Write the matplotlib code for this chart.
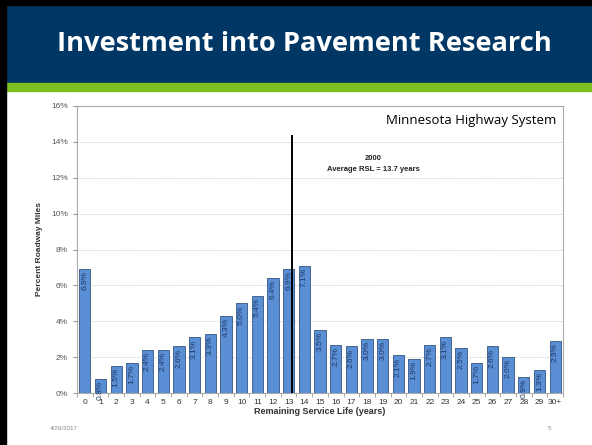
import matplotlib.pyplot as plt
import matplotlib.patches as patches
from matplotlib.ticker import FuncFormatter, FixedLocator, NullFormatter

plt.rcParams['font.family'] = ['Liberation Sans', 'DejaVu Sans']

# Datos
categorias = [str(i) for i in range(30)] + ["30+"]
porcentajes = [6.9, 0.8, 1.5, 1.7, 2.4, 2.4, 2.6, 3.1, 3.3, 4.3, 5.0, 5.4, 6.4, 6.9, 7.1,
               3.5, 2.7, 2.6, 3.0, 3.0, 2.1, 1.9, 2.7, 3.1, 2.5, 1.7, 2.6, 2.0, 0.9, 1.3, 2.9]
rsl_promedio = 13.7
linea_tope = 14.4

W, H = 592, 445
fig = plt.figure(figsize=(W / 100, H / 100), dpi=100)

# Encabezado de la diapositiva
fig.patches.append(patches.Rectangle((0, 1 - 83 / H), 1, 83 / H, transform=fig.transFigure,
                                     color="#003764", zorder=0))
fig.patches.append(patches.Rectangle((0, 1 - 91 / H), 1, 8 / H, transform=fig.transFigure,
                                     color="#7DBE21", zorder=0))
fig.patches.append(patches.Rectangle((0, 0), 6 / W, 1, transform=fig.transFigure,
                                     color="black", zorder=1))
fig.patches.append(patches.Rectangle((0, 1 - 5 / H), 1, 5 / H, transform=fig.transFigure,
                                     color="black", zorder=1))
fig.text(57 / W, 1 - 44 / H, "Investment into Pavement Research", color="white",
         fontsize=19.6, fontweight="bold", family=["Open Sans", "DejaVu Sans"],
         ha="left", va="center")

# Pie de página
fig.text(50 / W, 1 - 429 / H, "4/26/2017", fontsize=4.5, color="#888888", va="center")
fig.text(548 / W, 1 - 429 / H, "5", fontsize=4.5, color="#888888", va="center")

ax = fig.add_axes([77 / W, 1 - 393 / H, (563 - 77) / W, (393 - 106) / H])
x = list(range(len(categorias)))
ax.bar(x, porcentajes, width=0.72, color="#5A8FD5", edgecolor="#34557F", linewidth=0.6,
       zorder=3)

for xi, v in zip(x, porcentajes):
    ax.text(xi, v - 0.12, f"{v:.1f}%", rotation=90, ha="center", va="top",
            fontsize=6, color="#1F3864", zorder=4)

ax.set_xlim(-0.5, len(categorias) - 0.5)
ax.set_ylim(0, 16)
ax.set_yticks(range(0, 17, 2))
ax.yaxis.set_major_formatter(FuncFormatter(lambda v, p: f"{int(v)}%"))
ax.set_xticks(x)
ax.set_xticklabels(categorias)
ax.xaxis.set_minor_locator(FixedLocator([i - 0.5 for i in range(len(categorias) + 1)]))
ax.xaxis.set_minor_formatter(NullFormatter())
ax.tick_params(axis="x", which="major", length=0, labelsize=6, colors="#333333", pad=4)
ax.tick_params(axis="x", which="minor", length=3, color="#999999")
ax.tick_params(axis="y", length=3, labelsize=6, colors="#555555", color="#999999")
ax.grid(axis="y", linestyle=(0, (1.5, 1.5)), color="#C8C8C8", linewidth=0.6, zorder=0)
for s in ax.spines.values():
    s.set_color("#AAAAAA")
    s.set_linewidth(0.8)

ax.set_xlabel("Remaining Service Life (years)", fontsize=6.5, fontweight="bold",
              color="#333333", labelpad=1)
ax.set_ylabel("Percent Roadway Miles", fontsize=6, fontweight="bold", color="#333333",
              labelpad=6)

ax.vlines(rsl_promedio - 0.5, 0, linea_tope, color="black", linewidth=1.4, zorder=5)
ax.text(18.4, 13.1, "2000", fontsize=5.5, fontweight="bold", ha="center", va="center",
        color="#222222")
ax.text(18.4, 12.45, "Average RSL = 13.7 years", fontsize=5.5, fontweight="bold",
        ha="center", va="center", color="#222222")
ax.text(30.1, 15.2, "Minnesota Highway System", fontsize=9.5, ha="right", va="center",
        family=["Open Sans", "DejaVu Sans"], color="black")

fig.savefig("out.png", dpi=100)
